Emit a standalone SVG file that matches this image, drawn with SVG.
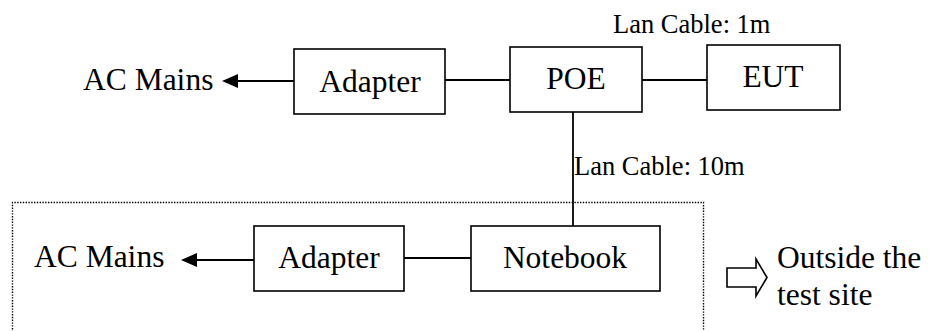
<svg xmlns="http://www.w3.org/2000/svg" width="929" height="331" viewBox="0 0 929 331">
<style>
  .box { fill: #fff; stroke: #000; stroke-width: 1.6; }
  .t { font-family: "Liberation Serif", "Times New Roman", serif; font-size: 31.5px; fill: #000; }
  .s { font-family: "Liberation Serif", "Times New Roman", serif; font-size: 26.5px; fill: #000; }
  .ln { stroke: #000; stroke-width: 1.8; fill: none; }
</style>
<defs>
  <marker id="ah" viewBox="0 0 16 14" refX="0" refY="7" markerWidth="16" markerHeight="14" markerUnits="userSpaceOnUse" orient="auto-start-reverse">
    <path d="M0,0 L16,7 L0,14 Z" fill="#000"/>
  </marker>
</defs>
<rect width="929" height="331" fill="#fff"/>
<g id="boundary">
  <path d="M12.5,335 L12.5,202.5 L703.5,202.5 L703.5,335" fill="none" stroke="#000" stroke-width="1.4" stroke-dasharray="1.4 1.4"/>
</g>
<g id="connectors">
  <line class="ln" x1="294" y1="81" x2="238" y2="81" marker-end="url(#ah)"/>
  <line class="ln" x1="445" y1="80" x2="510" y2="80"/>
  <line class="ln" x1="642" y1="80" x2="707" y2="80"/>
  <line class="ln" x1="573" y1="112" x2="573" y2="226"/>
  <line class="ln" x1="254" y1="260" x2="197" y2="260" marker-end="url(#ah)"/>
  <line class="ln" x1="404" y1="258" x2="471" y2="258"/>
</g>
<g id="ac-mains-top"><text class="t" x="83" y="90">AC Mains</text></g>
<g id="adapter-top">
  <rect class="box" x="294" y="49" width="151" height="65"/>
  <text class="t" x="370" y="92" text-anchor="middle">Adapter</text>
</g>
<g id="poe">
  <rect class="box" x="510" y="47" width="132" height="65"/>
  <text class="t" x="576" y="89" text-anchor="middle">POE</text>
</g>
<g id="eut">
  <rect class="box" x="707" y="45" width="133" height="65"/>
  <text class="t" x="773" y="87" text-anchor="middle">EUT</text>
</g>
<g id="label-1m"><text class="s" x="613" y="33">Lan Cable: 1m</text></g>
<g id="label-10m"><text class="s" x="574" y="175">Lan Cable: 10m</text></g>
<g id="ac-mains-bottom"><text class="t" x="34" y="267">AC Mains</text></g>
<g id="adapter-bottom">
  <rect class="box" x="254" y="226" width="150" height="65"/>
  <text class="t" x="329" y="268" text-anchor="middle">Adapter</text>
</g>
<g id="notebook">
  <rect class="box" x="471" y="226" width="189" height="65"/>
  <text class="t" x="565" y="268" text-anchor="middle">Notebook</text>
</g>
<g id="outside-legend">
  <path d="M727,268 L756,268 L756,259 L767,277.5 L756,296 L756,287 L727,287 Z" fill="#fff" stroke="#000" stroke-width="1.6"/>
  <text class="t" x="777" y="268">Outside the</text>
  <text class="t" x="777" y="305">test site</text>
</g>
</svg>
